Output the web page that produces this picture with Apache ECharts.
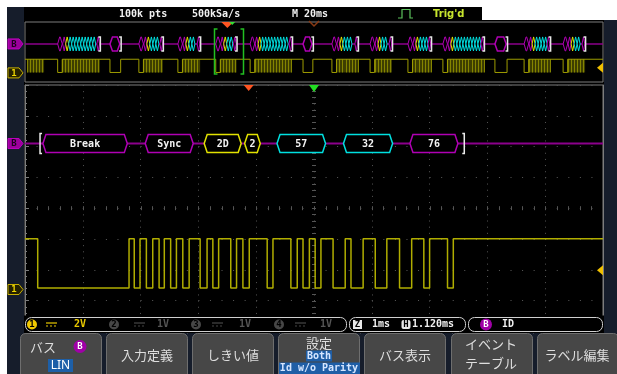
<!DOCTYPE html>
<html>
<head>
<meta charset="utf-8">
<title>LIN bus decode</title>
<script src="https://cdn.jsdelivr.net/npm/echarts@6.0.0/dist/echarts.min.js"></script>
<style>
  html, body { margin: 0; padding: 0; background: #fff; }
  #chart { width: 617px; height: 374px; }
</style>
</head>
<body>
<div id="chart"></div>
<script>
// ===== values =====
// zoom window (1 ms/div, 10 div): CH1 edge times in ms, signal starts high
const mainEdgesMs = [0.22, 1.80, 1.89, 1.99, 2.10, 2.21, 2.32, 2.41, 2.52, 2.62,
  2.73, 2.84, 3.03, 3.15, 3.25, 3.35, 3.56, 3.66, 3.77, 3.88,
  4.19, 4.29, 4.60, 4.71, 4.81, 4.92, 5.02, 5.12, 5.33, 5.54,
  5.64, 5.85, 6.06, 6.26, 6.48, 6.69, 6.90, 7.00, 7.31, 7.41]
const levelHighV = 3.3
const levelLowV = 0.1
const triggerLevelV = 1.25

// decoded LIN fields inside the zoom window
const fieldLabels = ['Break', 'Sync', '2D', '2', '57', '32', '76']
const fieldTypes = ['header', 'header', 'id', 'id', 'data', 'data', 'checksum']
const fieldStartMs = [0.31, 2.08, 3.10, 3.80, 4.36, 5.51, 6.66]
const fieldEndMs = [1.77, 2.91, 3.74, 4.07, 5.20, 6.36, 7.49]
const frameBoundsMs = [0.26, 7.60]

// overview (20 ms/div, 200 ms): frames on the bus
const ovFrameStartMs = [0.7, 11.3, 29.4, 39.4, 52.9, 66.0, 77.9, 96.2, 106.2, 119.4, 132.5, 144.6, 162.6, 172.7, 186.2]
const ovFrameEndMs = [6.6, 25.9, 33.1, 47.7, 60.6, 73.2, 92.4, 99.6, 115.2, 127.0, 140.5, 158.8, 166.8, 181.7, 193.8]
const ovFrameKinds = ['partial', 'full', 'header', 'full', 'full', 'full', 'full', 'header',
  'full', 'full', 'full', 'full', 'header', 'full', 'full']
const zoomWindowMs = [65.4, 75.4]
const byteMs = 1.04 // one 10-bit byte at ~9600 bd

// markers
const ovTriggerMs = 70.0
const ovZoomMarkMs = 71.0
const ovCenterMs = 100
const mainTriggerMs = 3.87
const mainCenterMs = 5

// ===== layout / colours =====
const busRowOvV = 7      // decode row in overview (volts axis)
const busRowMainDiv = 6.1 // decode row in zoom window (division axis)
const MAGENTA = '#b000b4'
const YELLOW = '#e2e200'
const CYAN = '#00e0e0'
const TRACE = '#b0ad00'
const MONO = '"DejaVu Sans Mono"'
const JP = '"Noto Sans CJK JP"'
const fieldColor = { header: MAGENTA, id: YELLOW, data: CYAN, checksum: MAGENTA }

// ----- series data -----
const mainTrace = [[0, levelHighV]]
let high = true
mainEdgesMs.forEach(t => {
  high = !high
  mainTrace.push([t, high ? levelHighV : levelLowV])
})
mainTrace.push([10, high ? levelHighV : levelLowV])

const breakLowMs = mainEdgesMs[1] - mainEdgesMs[0]
const ovTrace = [[0, levelHighV]]
ovFrameStartMs.forEach((s, i) => {
  if (ovFrameKinds[i] === 'full') ovTrace.push([s, levelLowV], [s + breakLowMs, levelHighV])
  else if (ovFrameKinds[i] === 'header') ovTrace.push([s, levelLowV], [ovFrameEndMs[i], levelHighV])
})
ovTrace.push([200, levelHighV])

const ovFrames = ovFrameStartMs.map((s, i) => [s, ovFrameEndMs[i], i])
const mainFields = fieldStartMs.map((s, i) => [s, fieldEndMs[i], i])

// ----- render helpers -----
function hexShape(x0, x1, y, h, c, stroke, lw) {
  c = Math.min(c, (x1 - x0) / 2)
  return {
    type: 'polygon',
    shape: { points: [[x0, y], [x0 + c, y - h], [x1 - c, y - h], [x1, y], [x1 - c, y + h], [x0 + c, y + h]] },
    style: { fill: '#000', stroke: stroke, lineWidth: lw }
  }
}

function bracket(x, y, h, dir, color) {
  // dir = 1 -> "[", dir = -1 -> "]"
  return {
    type: 'polyline',
    shape: { points: [[x + 2 * dir, y - h], [x, y - h], [x, y + h], [x + 2 * dir, y + h]] },
    style: { stroke: color, lineWidth: 1.5, fill: null }
  }
}

function tag(y, label, fill, stroke, textColor) {
  return {
    type: 'group',
    children: [
      { type: 'polygon', shape: { points: [[8, y - 5], [19, y - 5], [23, y], [19, y + 5], [8, y + 5]] },
        style: { fill: fill, stroke: stroke, lineWidth: 1 } },
      { type: 'text', style: { text: label, x: 14, y: y + 0.5, align: 'center', verticalAlign: 'middle',
        fill: textColor, font: 'bold 9px ' + MONO } }
    ]
  }
}

function renderOverviewFrame(params, api) {
  const i = api.value(2)
  const kind = ovFrameKinds[i]
  const start = api.value(0)
  const end = api.value(1)
  const X = t => api.coord([t, 0])[0]
  const yHi = api.coord([0, levelHighV])[1]
  const yLo = api.coord([0, levelLowV])[1]
  const yBus = api.coord([0, busRowOvV])[1]
  const children = []

  // dense bit activity
  if (kind !== 'header') {
    const d0 = kind === 'full' ? start + breakLowMs : start
    children.push({ type: 'rect', shape: { x: X(d0), y: yHi, width: X(end) - X(d0), height: yLo - yHi },
      style: { fill: '#3e3e00' } })
    for (let t = d0; t <= end; t += byteMs) {
      const x = Math.round(X(t)) + 0.5
      children.push({ type: 'line', shape: { x1: x, y1: yHi, x2: x, y2: yLo }, style: { stroke: '#848400', lineWidth: 1 } })
    }
  }

  // decode chain
  if (kind === 'full') {
    let t = start
    children.push(hexShape(X(t), X(t + breakLowMs), yBus, 7, 2, MAGENTA, 1))
    t += breakLowMs + 0.15
    children.push(hexShape(X(t), X(t + byteMs), yBus, 7, 1.5, MAGENTA, 1))
    t += byteMs
    children.push(hexShape(X(t), X(t + byteMs), yBus, 7, 1.5, YELLOW, 1))
    t += byteMs
    while (t + 2 * byteMs <= end + 0.01) {
      children.push(hexShape(X(t), X(t + byteMs), yBus, 7, 1.5, CYAN, 1))
      t += byteMs
    }
    children.push(hexShape(X(end - byteMs), X(end - 0.1), yBus, 7, 1.5, MAGENTA, 1))
  } else if (kind === 'header') {
    children.push(hexShape(X(start), X(end - 0.3), yBus, 7, 2.5, MAGENTA, 1.5))
  }
  if (kind !== 'partial') children.push(bracket(X(end) + 0.5, yBus, 7, -1, '#e8e8e8'))
  return { type: 'group', children: children }
}

function renderOverviewMarkers(params, api) {
  const cs = params.coordSys
  const X = t => api.coord([t, 0])[0]
  const top = cs.y
  const bottom = cs.y + cs.height
  const children = []
  // zoom window brackets
  const zl = Math.round(X(zoomWindowMs[0])) + 0.5
  const zr = Math.round(X(zoomWindowMs[1])) + 0.5
  children.push({ type: 'polyline', shape: { points: [[zl + 3, top + 7], [zl, top + 7], [zl, bottom - 8], [zl + 3, bottom - 8]] },
    style: { stroke: '#22c022', lineWidth: 1.5, fill: null } })
  children.push({ type: 'polyline', shape: { points: [[zr - 3, top + 7], [zr, top + 7], [zr, bottom - 8], [zr - 3, bottom - 8]] },
    style: { stroke: '#22c022', lineWidth: 1.5, fill: null } })
  // trigger & centre markers
  const xc = X(ovCenterMs)
  children.push({ type: 'polyline', shape: { points: [[xc - 5, top - 1], [xc, top + 4], [xc + 5, top - 1]] },
    style: { stroke: '#8a3a14', lineWidth: 1.5, fill: null } })
  const xt = X(ovTriggerMs)
  children.push({ type: 'polygon', shape: { points: [[xt - 6, top], [xt + 6, top], [xt, top + 6]] }, style: { fill: '#ff5522' } })
  const xz = X(ovZoomMarkMs)
  children.push({ type: 'polygon', shape: { points: [[xz - 1, top], [xz + 5, top], [xz + 2, top + 3]] }, style: { fill: '#33dd33' } })
  // trigger level arrow
  const yt = api.coord([0, triggerLevelV])[1]
  children.push({ type: 'polygon', shape: { points: [[cs.x + cs.width - 6, yt], [cs.x + cs.width, yt - 5], [cs.x + cs.width, yt + 5]] },
    style: { fill: '#f0c000' } })
  // channel tags
  children.push(tag(api.coord([0, busRowOvV])[1], 'B', '#9c009c', '#c000c0', '#1c001c'))
  children.push(tag(api.coord([0, 0])[1], '1', '#262200', '#c8b000', '#f0d800'))
  return { type: 'group', children: children }
}

function renderCentreTicks(params, api) {
  const cs = params.coordSys
  const xc = api.coord([mainCenterMs, 4])[0]
  const yc = api.coord([mainCenterMs, 4])[1]
  const children = []
  const dy = cs.height / 40
  for (let k = 1; k < 40; k++) {
    const y = Math.round(cs.y + k * dy) + 0.5
    children.push({ type: 'line', shape: { x1: xc - 2, y1: y, x2: xc + 2, y2: y }, style: { stroke: '#555', lineWidth: 1 } })
  }
  const dx = cs.width / 50
  for (let k = 1; k < 50; k++) {
    const x = Math.round(cs.x + k * dx) + 0.5
    children.push({ type: 'line', shape: { x1: x, y1: yc - 2, x2: x, y2: yc + 2 }, style: { stroke: '#555', lineWidth: 1 } })
  }
  return { type: 'group', children: children }
}

function renderMainField(params, api) {
  const i = api.value(2)
  const p0 = api.coord([api.value(0), busRowMainDiv])
  const p1 = api.coord([api.value(1), busRowMainDiv])
  return {
    type: 'group',
    children: [
      hexShape(p0[0], p1[0], p0[1], 9, 3, fieldColor[fieldTypes[i]], 1.5),
      { type: 'text', style: { text: fieldLabels[i], x: (p0[0] + p1[0]) / 2, y: p0[1] + 0.5, align: 'center',
        verticalAlign: 'middle', fill: '#f2f2f2', font: 'bold 10px ' + MONO } }
    ]
  }
}

function renderMainBrackets(params, api) {
  const a = api.coord([api.value(0), busRowMainDiv])
  const b = api.coord([api.value(1), busRowMainDiv])
  return { type: 'group', children: [bracket(a[0], a[1], 10, 1, '#ececec'), bracket(b[0], b[1], 10, -1, '#ececec')] }
}

function renderMainMarkers(params, api) {
  const cs = params.coordSys
  const top = cs.y
  const xt = api.coord([mainTriggerMs, 0])[0]
  const xc = api.coord([mainCenterMs, 0])[0]
  const yt = api.coord([0, triggerLevelV])[1]
  const yg = api.coord([0, 0])[1]
  return {
    type: 'group',
    children: [
      { type: 'polygon', shape: { points: [[xt - 5, top], [xt + 5, top], [xt, top + 6]] }, style: { fill: '#ff5522' } },
      { type: 'polygon', shape: { points: [[xc - 5, top], [xc + 5, top], [xc, top + 7]] }, style: { fill: '#22dd22' } },
      { type: 'polygon', shape: { points: [[cs.x + cs.width - 6, yt], [cs.x + cs.width, yt - 5], [cs.x + cs.width, yt + 5]] },
        style: { fill: '#f0c000' } },
      tag(yg, '1', '#262200', '#c8b000', '#f0d800')
    ]
  }
}

function busTagMain(params, api) {
  const y = api.coord([0, busRowMainDiv])[1]
  return tag(y, 'B', '#9c009c', '#c000c0', '#1c001c')
}

// ----- static screen furniture -----
function txt(text, x, y, color, font, align) {
  return { type: 'text', z: 110, style: { text: text, x: x, y: y, fill: color, font: font, align: align || 'left', verticalAlign: 'middle' } }
}
function circ(cx, cy, r, fill, label, labelColor) {
  return [
    { type: 'circle', z: 110, shape: { cx: cx, cy: cy, r: r }, style: { fill: fill } },
    txt(label, cx, cy + 0.5, labelColor, 'bold 9px ' + MONO, 'center')
  ]
}
function dcSymbol(x, y, color) {
  return [
    { type: 'line', z: 110, shape: { x1: x, y1: y - 1.5, x2: x + 11, y2: y - 1.5 }, style: { stroke: color, lineWidth: 1.2 } },
    { type: 'line', z: 110, shape: { x1: x, y1: y + 1.5, x2: x + 11, y2: y + 1.5 }, style: { stroke: color, lineWidth: 1.2, lineDash: [2, 2] } }
  ]
}

const buttonX = [20, 106, 192, 278, 364, 451, 537]
const graphics = [
  { type: 'rect', z: -100, shape: { x: 7, y: 7, width: 610, height: 367 }, style: { fill: '#161d2b' } },
  { type: 'rect', z: -99, shape: { x: 482, y: 0, width: 135, height: 20 }, style: { fill: '#ffffff' } },
  { type: 'rect', z: -98, shape: { x: 24, y: 7, width: 458, height: 13 }, style: { fill: '#000' } },
  { type: 'rect', z: -98, shape: { x: 24, y: 20, width: 580, height: 297 }, style: { fill: '#000' } },
  // top status line
  txt('100k pts', 119, 14, '#f0f0f0', 'bold 10px ' + MONO),
  txt('500kSa/s', 192, 14, '#f0f0f0', 'bold 10px ' + MONO),
  txt('M 20ms', 292, 14, '#f0f0f0', 'bold 10px ' + MONO),
  { type: 'polyline', z: 110, shape: { points: [[398, 18], [402, 18], [402, 9.5], [410, 9.5], [410, 18], [413, 18]] },
    style: { stroke: '#5cc05c', lineWidth: 1.2, fill: null } },
  txt("Trig'd", 433, 14, '#c8e62e', 'bold 10px "DejaVu Sans"'),
  // info bar
  { type: 'rect', z: 100, shape: { x: 24, y: 315.5, width: 580, height: 17.5 }, style: { fill: '#000' } },
  { type: 'rect', z: 101, shape: { x: 25.5, y: 317.5, width: 321, height: 14, r: 6 }, style: { fill: '#000', stroke: '#d0d0d0', lineWidth: 1 } },
  { type: 'rect', z: 101, shape: { x: 349.5, y: 317.5, width: 116, height: 14, r: 6 }, style: { fill: '#000', stroke: '#d0d0d0', lineWidth: 1 } },
  { type: 'rect', z: 101, shape: { x: 468.5, y: 317.5, width: 134, height: 14, r: 6 }, style: { fill: '#000', stroke: '#d0d0d0', lineWidth: 1 } },
  ...circ(32, 324.5, 5, '#f0c800', '1', '#000'),
  ...dcSymbol(46, 324.5, '#e8c800'),
  txt('2V', 74, 324.5, '#e8c800', 'bold 10px ' + MONO),
  ...circ(114, 324.5, 5, '#474747', '2', '#000'),
  ...dcSymbol(134, 324.5, '#474747'),
  txt('1V', 157, 324.5, '#555', 'bold 10px ' + MONO),
  ...circ(196, 324.5, 5, '#474747', '3', '#000'),
  ...dcSymbol(212, 324.5, '#474747'),
  txt('1V', 239, 324.5, '#555', 'bold 10px ' + MONO),
  ...circ(279, 324.5, 5, '#474747', '4', '#000'),
  ...dcSymbol(295, 324.5, '#474747'),
  txt('1V', 320, 324.5, '#555', 'bold 10px ' + MONO),
  { type: 'rect', z: 110, shape: { x: 353, y: 320, width: 9, height: 9 }, style: { fill: '#e8e8e8' } },
  txt('Z', 357.5, 325, '#000', 'bold 9px ' + MONO, 'center'),
  txt('1ms', 372, 324.5, '#f0f0f0', 'bold 10px ' + MONO),
  { type: 'rect', z: 110, shape: { x: 401.5, y: 320, width: 9, height: 9, r: 2 }, style: { fill: '#e8e8e8' } },
  txt('H', 406, 325, '#000', 'bold 9px ' + MONO, 'center'),
  txt('1.120ms', 412, 324.5, '#f0f0f0', 'bold 10px ' + MONO),
  ...circ(486, 324.5, 6, '#a000a8', 'B', '#fff'),
  txt('ID', 502, 324.5, '#f0f0f0', 'bold 10px ' + MONO),
  // soft keys
  ...buttonX.map(x => ({ type: 'rect', z: 100, shape: { x: x + 0.5, y: 333.5, width: 81, height: 46, r: 5 },
    style: { fill: '#474747', stroke: '#6e6e6e', lineWidth: 1 } })),
  txt('バス', 43, 347, '#dedede', '13px ' + JP, 'center'),
  ...circ(80, 346.5, 6.5, '#a000a8', 'B', '#fff'),
  { type: 'rect', z: 110, shape: { x: 48, y: 359, width: 25, height: 13 }, style: { fill: '#1d5fa8' } },
  txt('LIN', 60.5, 366, '#fff', '12px "Noto Sans"', 'center'),
  txt('入力定義', 147, 355, '#dedede', '13px ' + JP, 'center'),
  txt('しきい値', 233, 355, '#dedede', '13px ' + JP, 'center'),
  txt('設定', 319, 343, '#dedede', '13px ' + JP, 'center'),
  { type: 'rect', z: 110, shape: { x: 306, y: 350.5, width: 26, height: 11 }, style: { fill: '#1f5ea6' } },
  txt('Both', 319, 356.5, '#d6e6ff', 'bold 10px ' + MONO, 'center'),
  { type: 'rect', z: 110, shape: { x: 279, y: 362.5, width: 81, height: 12 }, style: { fill: '#1f5ea6' } },
  txt('Id w/o Parity', 319, 368.5, '#d6e6ff', 'bold 10px ' + MONO, 'center'),
  txt('バス表示', 405, 355, '#dedede', '13px ' + JP, 'center'),
  txt('イベント', 491, 344, '#dedede', '13px ' + JP, 'center'),
  txt('テーブル', 491, 363, '#dedede', '13px ' + JP, 'center'),
  txt('ラベル編集', 577, 355, '#dedede', '13px ' + JP, 'center')
]

const chart = echarts.init(document.getElementById('chart'), null, { renderer: 'canvas' })

const option = {
  animation: false,
  backgroundColor: '#ffffff',
  grid: [
    { left: 25, top: 22, width: 578, height: 60, show: true, backgroundColor: '#000', borderColor: '#7c7c7c', borderWidth: 1 },
    { left: 25, top: 85, width: 578, height: 246.4, show: true, backgroundColor: '#000', borderColor: '#7c7c7c', borderWidth: 1 }
  ],
  xAxis: [
    { gridIndex: 0, type: 'value', min: 0, max: 200, show: false },
    {
      gridIndex: 1, type: 'value', min: 0, max: 10, interval: 1, position: 'top',
      axisLine: { show: true, lineStyle: { color: '#7c7c7c' } },
      axisTick: { show: true, inside: true, length: 4, lineStyle: { color: '#7c7c7c' } },
      minorTick: { show: true, splitNumber: 5, length: 2, lineStyle: { color: '#7c7c7c' } },
      axisLabel: { show: false },
      splitLine: { show: true, lineStyle: { color: '#555', width: 1, type: [1, 5.16] } }
    }
  ],
  yAxis: [
    { gridIndex: 0, type: 'value', min: -2.2, max: 12.3, show: false },
    {
      gridIndex: 1, type: 'value', min: 0, max: 8, interval: 1, position: 'left',
      axisLine: { show: true, lineStyle: { color: '#7c7c7c' } },
      axisTick: { show: true, inside: true, length: 4, lineStyle: { color: '#7c7c7c' } },
      minorTick: { show: true, splitNumber: 5, length: 2, lineStyle: { color: '#7c7c7c' } },
      axisLabel: { show: false },
      splitLine: { show: true, lineStyle: { color: '#5a5a5a', width: 1, type: [1, 10.56] } }
    },
    {
      gridIndex: 1, type: 'value', min: -2.72, max: 13.28, position: 'right',
      axisLine: { show: true, lineStyle: { color: '#7c7c7c' } },
      axisTick: { show: false }, axisLabel: { show: false }, splitLine: { show: false }
    }
  ],
  series: [
    // overview
    { type: 'line', xAxisIndex: 0, yAxisIndex: 0, data: [[0, busRowOvV], [200, busRowOvV]], showSymbol: false,
      lineStyle: { color: '#8c008c', width: 1.5 }, silent: true, z: 1 },
    { type: 'custom', xAxisIndex: 0, yAxisIndex: 0, data: ovFrames, encode: { x: [0, 1] }, renderItem: renderOverviewFrame, z: 2, silent: true },
    { type: 'line', xAxisIndex: 0, yAxisIndex: 0, data: ovTrace, step: 'end', showSymbol: false,
      lineStyle: { color: '#9e9c00', width: 1 }, silent: true, z: 3 },
    { type: 'custom', xAxisIndex: 0, yAxisIndex: 0, data: [[0, 0]], renderItem: renderOverviewMarkers, clip: false, z: 4, silent: true },
    // zoom window
    { type: 'custom', xAxisIndex: 1, yAxisIndex: 1, data: [[mainCenterMs, 4]], renderItem: renderCentreTicks, z: 1, silent: true },
    { type: 'line', xAxisIndex: 1, yAxisIndex: 1, data: [[0, busRowMainDiv], [10, busRowMainDiv]], showSymbol: false,
      lineStyle: { color: '#8c008c', width: 2 }, silent: true, z: 2 },
    { type: 'custom', xAxisIndex: 1, yAxisIndex: 1, data: mainFields, encode: { x: [0, 1] }, renderItem: renderMainField, z: 3, silent: true },
    { type: 'custom', xAxisIndex: 1, yAxisIndex: 1, data: [frameBoundsMs], encode: { x: [0, 1] }, renderItem: renderMainBrackets, z: 3, silent: true },
    { type: 'custom', xAxisIndex: 1, yAxisIndex: 1, data: [[0, 0]], renderItem: busTagMain, clip: false, z: 4, silent: true },
    { type: 'line', xAxisIndex: 1, yAxisIndex: 2, data: mainTrace, step: 'end', showSymbol: false,
      lineStyle: { color: TRACE, width: 1.5 }, silent: true, z: 4 },
    { type: 'custom', xAxisIndex: 1, yAxisIndex: 2, data: [[0, 0]], renderItem: renderMainMarkers, clip: false, z: 5, silent: true }
  ],
  graphic: { elements: graphics }
}

chart.setOption(option)
</script>
</body>
</html>
